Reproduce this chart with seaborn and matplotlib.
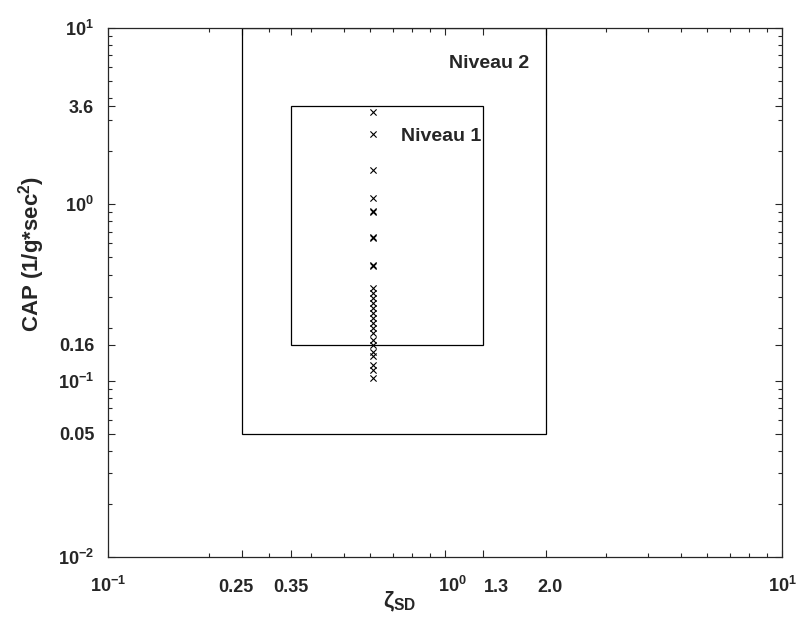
import matplotlib
matplotlib.use("Agg")
import matplotlib.pyplot as plt
import matplotlib.transforms as mtransforms
import seaborn as sns
import pandas as pd
from matplotlib.patches import Rectangle

# data
zeta_sd = 0.61
cap_values = [3.34, 2.50, 1.57, 1.086, 0.916, 0.91, 0.652, 0.648, 0.453, 0.45,
              0.335, 0.314, 0.294, 0.275, 0.258, 0.242, 0.226, 0.212, 0.199,
              0.186, 0.170, 0.159, 0.145, 0.138, 0.123, 0.115, 0.1035]

# level boundaries (zeta_min, zeta_max, cap_min, cap_max)
niveau_1 = (0.35, 1.3, 0.16, 3.6)
niveau_2 = (0.25, 2.0, 0.05, 10.0)

x_ticks = [0.1, 0.25, 0.35, 1.0, 1.3, 2.0, 10.0]
x_ticklabels = [r"$10^{-1}$", "0.25", "0.35", r"$10^{0}$", "1.3", "2.0", r"$10^{1}$"]
# small horizontal nudges (pixels) of the x labels, as in the original
x_label_shift = [0, -6, 0, 7, 13, 4, 0]
y_ticks = [0.01, 0.05, 0.1, 0.16, 1.0, 3.6, 10.0]
y_ticklabels = [r"$10^{-2}$", "0.05", r"$10^{-1}$", "0.16", r"$10^{0}$", "3.6", r"$10^{1}$"]

sns.set_style("ticks")
plt.rcParams["font.family"] = ["Liberation Sans", "DejaVu Sans"]
plt.rcParams["font.weight"] = "bold"
plt.rcParams["mathtext.fontset"] = "custom"
plt.rcParams["mathtext.rm"] = "Liberation Sans:bold"
plt.rcParams["mathtext.bf"] = "Liberation Sans:bold"
plt.rcParams["mathtext.it"] = "Liberation Sans:bold"

df = pd.DataFrame({"zeta": [zeta_sd] * len(cap_values), "cap": cap_values})

fig = plt.figure(figsize=(8.02, 6.2), dpi=100)
ax = fig.add_axes([0.1347, 0.1016, 0.8403, 0.8532])

sns.scatterplot(data=df, x="zeta", y="cap", marker="x", color="black",
                s=20, linewidth=0.8, ax=ax, legend=False)

for (x0, x1, y0, y1) in [niveau_2, niveau_1]:
    ax.add_patch(Rectangle((x0, y0), x1 - x0, y1 - y0, fill=False,
                           edgecolor="black", linewidth=0.9))

ax.set_xscale("log")
ax.set_yscale("log")
ax.set_xlim(0.1, 10)
ax.set_ylim(0.01, 10)

ax.set_xticks(x_ticks)
ax.set_xticklabels(x_ticklabels)
ax.set_yticks(y_ticks)
ax.set_yticklabels(y_ticklabels)
ax.tick_params(which="both", direction="in", top=True, right=True,
               labelsize=13, width=0.8)
ax.tick_params(which="major", length=5)
ax.tick_params(which="minor", length=3)
ax.tick_params(axis="x", which="major", pad=25)
ax.tick_params(axis="y", which="major", pad=10)

for lab, dx in zip(ax.get_xticklabels(), x_label_shift):
    lab.set_fontweight("bold")
    lab.set_va("baseline")
    lab.set_transform(lab.get_transform() +
                      mtransforms.ScaledTranslation(dx / 100, 0, fig.dpi_scale_trans))
for lab in ax.get_yticklabels():
    lab.set_fontweight("bold")
for sp in ax.spines.values():
    sp.set_linewidth(0.9)

ax.text(1.03, 6.33, "Niveau 2", fontsize=14, fontweight="bold", va="center")
ax.text(0.74, 2.41, "Niveau 1", fontsize=14, fontweight="bold", va="center")

ax.set_xlabel(r"$\zeta_{SD}$", fontsize=16)
ax.xaxis.set_label_coords(0.432, -0.062)
ax.set_ylabel(r"CAP (1/g*sec$^2$)", fontsize=16, fontweight="bold")
ax.yaxis.set_label_coords(-0.09, 0.573)

fig.savefig("out.png", dpi=100)
